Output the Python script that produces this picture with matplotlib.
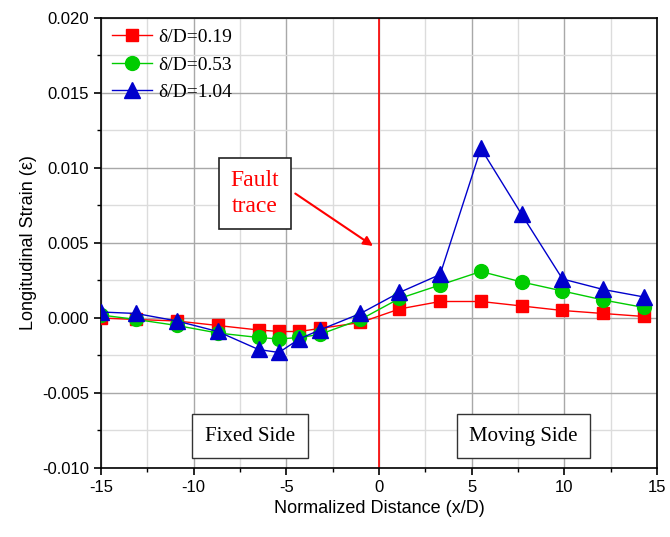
import numpy as np
import matplotlib
matplotlib.use("Agg")
from matplotlib import pyplot as plt
from matplotlib.ticker import MultipleLocator

# data
x = [-15, -13.1, -10.9, -8.7, -6.5, -5.4, -4.3, -3.2, -1.0,
     1.1, 3.3, 5.5, 7.7, 9.9, 12.1, 14.3]
strain_019 = [0.0000, -0.0001, -0.0002, -0.0005, -0.0008, -0.0009, -0.0009, -0.0007, -0.0003,
              0.0006, 0.0011, 0.0011, 0.0008, 0.0005, 0.0003, 0.0001]
strain_053 = [0.0002, -0.0001, -0.0005, -0.0010, -0.0013, -0.0014, -0.0013, -0.0011, -0.0001,
              0.0013, 0.0022, 0.0031, 0.0024, 0.0018, 0.0012, 0.0007]
strain_104 = [0.0004, 0.0003, -0.0002, -0.0009, -0.0021, -0.0023, -0.0014, -0.0008, 0.0003,
              0.0017, 0.0029, 0.0113, 0.0069, 0.0026, 0.0019, 0.0014]
labels = ["δ/D=0.19", "δ/D=0.53", "δ/D=1.04"]

plt.rcParams["font.family"] = "Liberation Sans"
plt.rcParams["axes.unicode_minus"] = False

fig = plt.figure(figsize=(6.7, 5.37), dpi=100)
ax = fig.add_axes([0.1507, 0.1285, 0.8299, 0.838])

ax.plot(x, strain_019, "-", color="#ff0000", lw=1, marker="s", ms=9,
        mfc="#ff0000", mec="#ff0000", label=labels[0], zorder=3)
ax.plot(x, strain_053, "-", color="#00cc00", lw=1, marker="o", ms=10,
        mfc="#00cc00", mec="#00cc00", label=labels[1], zorder=4)
ax.plot(x, strain_104, "-", color="#0000cc", lw=1, marker="^", ms=11.5,
        mfc="#0000cc", mec="#0000cc", label=labels[2], zorder=5)

ax.axvline(0, color="#ff0000", lw=1.2, zorder=2)

ax.set_xlim(-15, 15)
ax.set_ylim(-0.010, 0.020)
ax.xaxis.set_major_locator(MultipleLocator(5))
ax.xaxis.set_minor_locator(MultipleLocator(2.5))
ax.yaxis.set_major_locator(MultipleLocator(0.005))
ax.yaxis.set_minor_locator(MultipleLocator(0.0025))
ax.yaxis.set_major_formatter(matplotlib.ticker.FormatStrFormatter("%.3f"))

ax.grid(which="major", color="#a8a8a8", lw=1)
ax.grid(which="minor", color="#dcdcdc", lw=1)
ax.set_axisbelow(True)

ax.tick_params(which="both", direction="out", top=False, right=False, labelsize=12)
ax.tick_params(which="major", length=5, width=1.2)
ax.tick_params(which="minor", length=3, width=1)
for s in ax.spines.values():
    s.set_linewidth(1.2)

ax.set_xlabel("Normalized Distance (x/D)", fontsize=13)
ax.set_ylabel("Longitudinal Strain (ε)", fontsize=13)

leg = ax.legend(loc="upper left", frameon=False, prop={"family": "Liberation Serif", "size": 14},
                handlelength=2.05, borderaxespad=0.3, labelspacing=0.5, handletextpad=0.36,
                borderpad=0.25)

ax.annotate("", xy=(-0.2, 0.0047), xytext=(-4.64, 0.0084),
            arrowprops=dict(arrowstyle="-|>", color="#ff0000", lw=1.5, mutation_scale=14))
ax.text(-6.7, 0.0083, "Fault\ntrace", color="#ff0000", family="Liberation Serif",
        fontsize=17, ha="center", va="center", linespacing=1.3,
        bbox=dict(boxstyle="square,pad=0.5", fc="white", ec="#222222", lw=1.2))
ax.text(-6.96, -0.0079, "Fixed Side", family="Liberation Serif", fontsize=15,
        ha="center", va="center",
        bbox=dict(boxstyle="square,pad=0.6", fc="white", ec="#333333", lw=1))
ax.text(7.8, -0.0079, "Moving Side", family="Liberation Serif", fontsize=15,
        ha="center", va="center",
        bbox=dict(boxstyle="square,pad=0.6", fc="white", ec="#333333", lw=1))

fig.savefig("out.png", dpi=100)
